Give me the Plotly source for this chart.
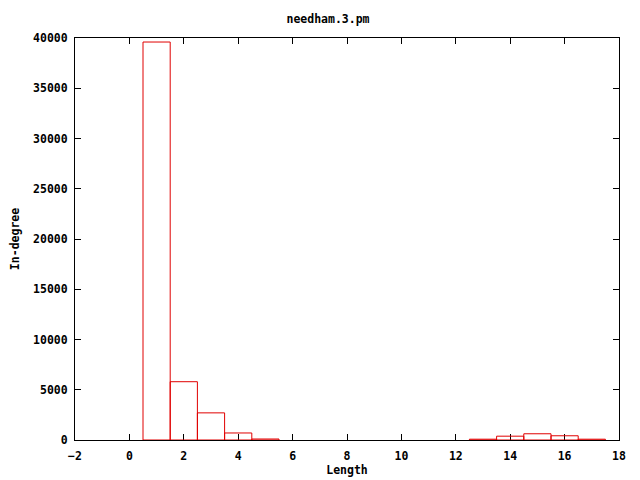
import plotly.graph_objects as go

lengths = [1, 2, 3, 4, 5, 13, 14, 15, 16, 17]
indegree = [39600, 5800, 2700, 700, 100, 80, 380, 620, 420, 80]
box_width = 1

x_ticks = [-2, 0, 2, 4, 6, 8, 10, 12, 14, 16, 18]
y_ticks = [0, 5000, 10000, 15000, 20000, 25000, 30000, 35000, 40000]

FONT = "DejaVu Sans Mono"
FS = 11.5
BAR_RED = "#e00000"

# gnuplot-style "with boxes": each box outlined as a closed rectangle
xs, ys = [], []
for c, h in zip(lengths, indegree):
    l, r = c - box_width / 2, c + box_width / 2
    xs += [l, l, r, r, l, None]
    ys += [0, h, h, 0, 0, None]

fig = go.Figure()
fig.add_trace(go.Scatter(
    x=xs, y=ys, mode="lines", line=dict(color=BAR_RED, width=1),
    cliponaxis=False, showlegend=False, hoverinfo="skip",
))

fig.update_layout(
    width=640, height=480,
    margin=dict(l=67, r=29, t=30, b=48, autoexpand=False),
    paper_bgcolor="white", plot_bgcolor="white",
    font=dict(family=FONT, size=FS, color="black"),
    title=dict(text="<b>needham.3.pm</b>", x=0.5, xanchor="center",
               y=1 - 11/480, yanchor="middle",
               font=dict(family=FONT, size=FS)),
)
axis_common = dict(
    showline=True, linecolor="black", linewidth=1, mirror="ticks",
    ticks="inside", ticklen=6, tickcolor="black",
    showgrid=False, zeroline=False, layer="below traces", automargin=False,
    tickfont=dict(family=FONT, size=FS, weight="bold"),
)
fig.update_xaxes(range=[-2, 18], tickvals=x_ticks, ticklabelstandoff=5,
                 title=dict(text="<b>Length</b>", standoff=4, font=dict(family=FONT, size=FS)),
                 **axis_common)
fig.update_yaxes(range=[0, 40000], tickvals=y_ticks, ticktext=[str(v) for v in y_ticks],
                 ticklabelstandoff=4,
                 title=dict(text="<b>In-degree</b>", standoff=12, font=dict(family=FONT, size=FS)),
                 **axis_common)

fig.write_html("out.html")
